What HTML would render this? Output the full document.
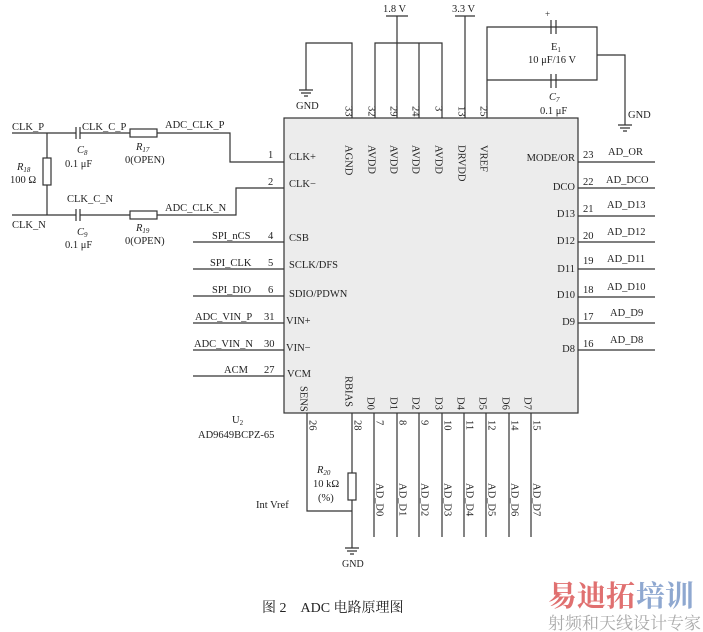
<!DOCTYPE html>
<html><head><meta charset="utf-8"><style>
html,body{margin:0;padding:0;background:#fff}
svg{display:block}
text{font-family:"Liberation Serif","Noto Serif CJK SC",serif;font-size:10.5px;fill:#222}
.v{writing-mode:tb}
.s{font-size:7px}
</style></head><body>
<svg width="703" height="632" viewBox="0 0 703 632" xmlns="http://www.w3.org/2000/svg">
<g stroke="#333" stroke-width="1.2" fill="none">
<rect x="284" y="118" width="294" height="295" fill="#ececec"/>
<path d="M352 118V43H306V90"/>
<path d="M299 90h14M301 93h10M304 96h4"/>
<path d="M375 118V43H442V118M397 118V16M419 118V43M386 16h22"/>
<path d="M465 118V16M455 16h20"/>
<path d="M487 118V27H597V80H487M597 55H625V125"/>
<path d="M618 125h14M620 128h10M623 131h4"/>
<path d="M551 20v14M556 20v14M551 74v14M556 74v14"/>
<path d="M12 133H76M80 133H130M157 133H230V162H284"/>
<path d="M76 127v12M80 127v12"/>
<rect x="130" y="129" width="27" height="8"/>
<path d="M47 133V158M47 185V215"/>
<rect x="43" y="158" width="8" height="27"/>
<path d="M12 215H76M80 215H130M157 215H236V188H284"/>
<path d="M76 209v12M80 209v12"/>
<rect x="130" y="211" width="27" height="8"/>
<path d="M193 242H284M193 269H284M193 296H284M193 323H284M193 350H284M193 376H284"/>
<path d="M578 162H655M578 188H655M578 216H655M578 242H655M578 269H655M578 297H655M578 323H655M578 350H655"/>
<path d="M307 413V511H352M352 413V473M352 500V548"/>
<rect x="348" y="473" width="8" height="27"/>
<path d="M345 548h14M347 551h10M350 554h4"/>
<path d="M374 413V537M397 413V537M419 413V537M442 413V537M464 413V537M486 413V537M509 413V537M531 413V537"/>
</g>
<text x="383" y="12">1.8 V</text>
<text x="452" y="12">3.3 V</text>
<text x="296" y="109">GND</text>
<text x="545" y="17" style="font-size:9px">+</text>
<text x="551" y="50">E<tspan class="s" dy="2">1</tspan></text>
<text x="528" y="63">10 μF/16 V</text>
<text x="549" y="100" font-style="italic">C<tspan class="s" dy="2">7</tspan></text>
<text x="540" y="114">0.1 μF</text>
<text x="628" y="118">GND</text>
<g>
<text x="348" y="106" class="v">33</text><text x="371" y="106" class="v">32</text><text x="393" y="106" class="v">29</text><text x="415" y="106" class="v">24</text><text x="438" y="106" class="v">3</text><text x="461" y="106" class="v">13</text><text x="483" y="106" class="v">25</text>
<text x="348" y="145" class="v">AGND</text><text x="371" y="145" class="v">AVDD</text><text x="393" y="145" class="v">AVDD</text><text x="415" y="145" class="v">AVDD</text><text x="438" y="145" class="v">AVDD</text><text x="461" y="145" class="v">DRVDD</text><text x="483" y="145" class="v">VREF</text>
<text x="303" y="386" class="v">SENS</text><text x="348" y="376" class="v">RBIAS</text>
<text x="370" y="397" class="v">D0</text><text x="393" y="397" class="v">D1</text><text x="415" y="397" class="v">D2</text><text x="438" y="397" class="v">D3</text><text x="460" y="397" class="v">D4</text><text x="482" y="397" class="v">D5</text><text x="505" y="397" class="v">D6</text><text x="527" y="397" class="v">D7</text>
<text x="312" y="420" class="v">26</text><text x="357" y="420" class="v">28</text><text x="379" y="420" class="v">7</text><text x="402" y="420" class="v">8</text><text x="424" y="420" class="v">9</text><text x="447" y="420" class="v">10</text><text x="469" y="420" class="v">11</text><text x="491" y="420" class="v">12</text><text x="514" y="420" class="v">14</text><text x="536" y="420" class="v">15</text>
<text x="379" y="483" class="v">AD_D0</text><text x="402" y="483" class="v">AD_D1</text><text x="424" y="483" class="v">AD_D2</text><text x="447" y="483" class="v">AD_D3</text><text x="469" y="483" class="v">AD_D4</text><text x="491" y="483" class="v">AD_D5</text><text x="514" y="483" class="v">AD_D6</text><text x="536" y="483" class="v">AD_D7</text>
</g>
<text x="12" y="130">CLK_P</text>
<text x="82" y="130">CLK_C_P</text>
<text x="165" y="128">ADC_CLK_P</text>
<text x="77" y="153" font-style="italic">C<tspan class="s" dy="2">8</tspan></text>
<text x="65" y="167">0.1 μF</text>
<text x="136" y="150" font-style="italic">R<tspan class="s" dy="2">17</tspan></text>
<text x="125" y="163">0(OPEN)</text>
<text x="17" y="170" font-style="italic">R<tspan class="s" dy="2">18</tspan></text>
<text x="10" y="183">100 Ω</text>
<text x="67" y="202">CLK_C_N</text>
<text x="12" y="228">CLK_N</text>
<text x="165" y="211">ADC_CLK_N</text>
<text x="77" y="235" font-style="italic">C<tspan class="s" dy="2">9</tspan></text>
<text x="65" y="248">0.1 μF</text>
<text x="136" y="231" font-style="italic">R<tspan class="s" dy="2">19</tspan></text>
<text x="125" y="244">0(OPEN)</text>
<text x="268" y="158">1</text><text x="268" y="185">2</text>
<text x="289" y="160">CLK+</text><text x="289" y="187">CLK−</text>
<text x="212" y="239">SPI_nCS</text><text x="268" y="239">4</text><text x="289" y="241">CSB</text>
<text x="210" y="266">SPI_CLK</text><text x="268" y="266">5</text><text x="289" y="268">SCLK/DFS</text>
<text x="212" y="293">SPI_DIO</text><text x="268" y="293">6</text><text x="289" y="297">SDIO/PDWN</text>
<text x="195" y="320">ADC_VIN_P</text><text x="264" y="320">31</text><text x="286" y="324">VIN+</text>
<text x="194" y="347">ADC_VIN_N</text><text x="264" y="347">30</text><text x="286" y="351">VIN−</text>
<text x="224" y="373">ACM</text><text x="264" y="373">27</text><text x="287" y="377">VCM</text>
<text x="232" y="423">U<tspan class="s" dy="2">2</tspan></text>
<text x="198" y="438">AD9649BCPZ-65</text>
<text x="317" y="473" font-style="italic">R<tspan class="s" dy="2">20</tspan></text>
<text x="313" y="487">10 kΩ</text>
<text x="318" y="501">(%)</text>
<text x="256" y="508">Int Vref</text>
<text x="342" y="567" style="font-size:10px">GND</text>
<g text-anchor="end">
<text x="575" y="161">MODE/OR</text><text x="575" y="190">DCO</text><text x="575" y="217">D13</text><text x="575" y="244">D12</text><text x="575" y="272">D11</text><text x="575" y="298">D10</text><text x="575" y="325">D9</text><text x="575" y="352">D8</text>
</g>
<text x="583" y="158">23</text><text x="583" y="185">22</text><text x="583" y="212">21</text><text x="583" y="239">20</text><text x="583" y="264">19</text><text x="583" y="293">18</text><text x="583" y="320">17</text><text x="583" y="347">16</text>
<text x="608" y="155">AD_OR</text><text x="606" y="183">AD_DCO</text><text x="607" y="208">AD_D13</text><text x="607" y="235">AD_D12</text><text x="607" y="262">AD_D11</text><text x="607" y="290">AD_D10</text><text x="610" y="316">AD_D9</text><text x="610" y="343">AD_D8</text>
<text x="262" y="612" style="font-size:14px">图 2　ADC 电路原理图</text>
<text x="548" y="606" style="font-size:29px;font-weight:bold;fill:#e07070">易迪拓</text>
<text x="636" y="606" style="font-size:29px;font-weight:bold;fill:#8fa8d0">培训</text>
<text x="548" y="629" style="font-size:17px;fill:#aaa">射频和天线设计专家</text>
</svg>
</body></html>
